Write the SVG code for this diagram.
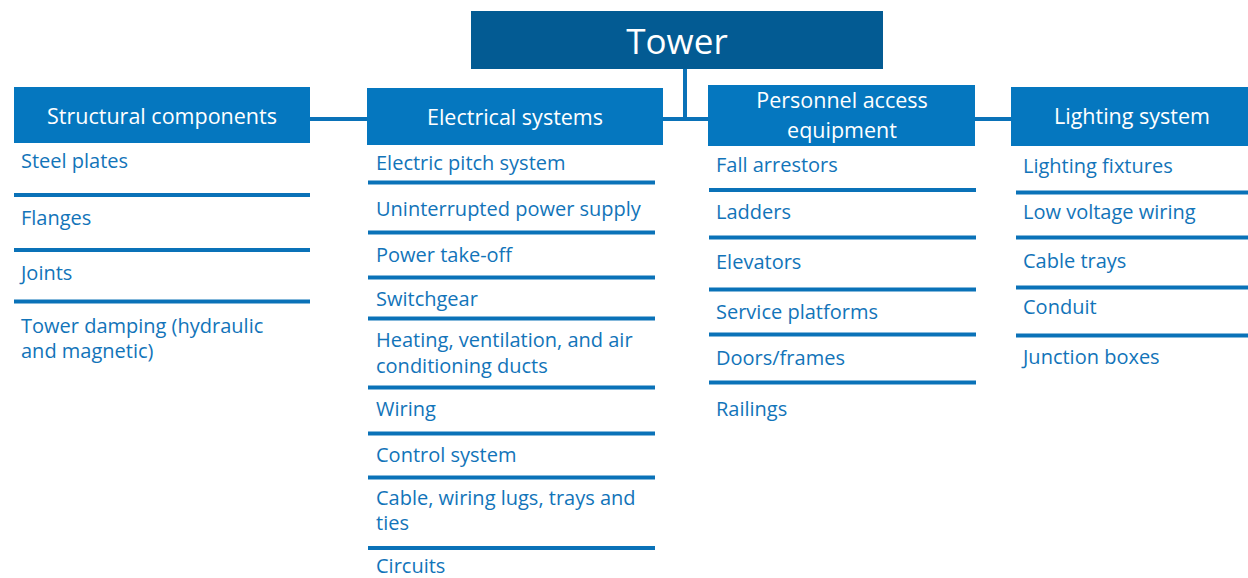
<svg xmlns="http://www.w3.org/2000/svg" width="1248" height="578" viewBox="0 0 1248 578">
<style>
.hd{fill:#0577bf}
.ht{fill:#ffffff;font-family:"Open Sans","Liberation Sans",sans-serif;font-size:21.5px;text-anchor:middle}
.it{fill:#1274b9;font-family:"Open Sans","Liberation Sans",sans-serif;font-size:20px}
.sep{stroke:#0a72b8;stroke-width:4}
.con{stroke:#0a72b8;stroke-width:4;fill:none}
</style>
<rect width="1248" height="578" fill="#ffffff"/>
<g id="connectors">
<line class="con" x1="685" y1="69" x2="685" y2="119"/>
<line class="con" x1="309" y1="119" x2="1012" y2="119"/>
</g>
<g id="tower">
<rect x="471" y="11" width="412" height="58" fill="#035b93"/>
<text x="677" y="54" fill="#ffffff" font-family="'Open Sans','Liberation Sans',sans-serif" font-size="35" text-anchor="middle">Tower</text>
</g>
<g id="structural">
<rect class="hd" x="14" y="87" width="296" height="56"/>
<text class="ht" x="162" y="124">Structural components</text>
<text class="it" x="21" y="168">Steel plates</text>
<line class="sep" x1="14" y1="195" x2="310" y2="195"/>
<text class="it" x="21" y="225">Flanges</text>
<line class="sep" x1="14" y1="250" x2="310" y2="250"/>
<text class="it" x="21" y="280">Joints</text>
<line class="sep" x1="14" y1="301.5" x2="310" y2="301.5"/>
<text class="it" x="21" y="333">Tower damping (hydraulic</text>
<text class="it" x="21" y="358">and magnetic)</text>
</g>
<g id="electrical">
<rect class="hd" x="367" y="88" width="296" height="57"/>
<text class="ht" x="515" y="125">Electrical systems</text>
<text class="it" x="376" y="170">Electric pitch system</text>
<line class="sep" x1="368" y1="182.5" x2="655" y2="182.5"/>
<text class="it" x="376" y="216">Uninterrupted power supply</text>
<line class="sep" x1="368" y1="232.5" x2="655" y2="232.5"/>
<text class="it" x="376" y="262">Power take-off</text>
<line class="sep" x1="368" y1="277.5" x2="655" y2="277.5"/>
<text class="it" x="376" y="306">Switchgear</text>
<line class="sep" x1="368" y1="318.5" x2="655" y2="318.5"/>
<text class="it" x="376" y="347">Heating, ventilation, and air</text>
<text class="it" x="376" y="373">conditioning ducts</text>
<line class="sep" x1="368" y1="387.5" x2="655" y2="387.5"/>
<text class="it" x="376" y="416">Wiring</text>
<line class="sep" x1="368" y1="433.5" x2="655" y2="433.5"/>
<text class="it" x="376" y="462">Control system</text>
<line class="sep" x1="368" y1="477.5" x2="655" y2="477.5"/>
<text class="it" x="376" y="505">Cable, wiring lugs, trays and</text>
<text class="it" x="376" y="530">ties</text>
<line class="sep" x1="368" y1="548" x2="655" y2="548"/>
<text class="it" x="376" y="573">Circuits</text>
</g>
<g id="personnel">
<rect class="hd" x="708" y="85" width="267" height="61"/>
<text class="ht" x="842" y="108">Personnel access</text>
<text class="ht" x="842" y="138">equipment</text>
<text class="it" x="716" y="172">Fall arrestors</text>
<line class="sep" x1="709" y1="190" x2="976" y2="190"/>
<text class="it" x="716" y="219">Ladders</text>
<line class="sep" x1="709" y1="237.5" x2="976" y2="237.5"/>
<text class="it" x="716" y="269">Elevators</text>
<line class="sep" x1="709" y1="289.5" x2="976" y2="289.5"/>
<text class="it" x="716" y="319">Service platforms</text>
<line class="sep" x1="709" y1="334.5" x2="976" y2="334.5"/>
<text class="it" x="716" y="365">Doors/frames</text>
<line class="sep" x1="709" y1="382.5" x2="976" y2="382.5"/>
<text class="it" x="716" y="416">Railings</text>
</g>
<g id="lighting">
<rect class="hd" x="1011" y="87" width="237" height="59"/>
<text class="ht" x="1132" y="124">Lighting system</text>
<text class="it" x="1023" y="173">Lighting fixtures</text>
<line class="sep" x1="1016" y1="192.5" x2="1248" y2="192.5"/>
<text class="it" x="1023" y="219">Low voltage wiring</text>
<line class="sep" x1="1016" y1="237.5" x2="1248" y2="237.5"/>
<text class="it" x="1023" y="268">Cable trays</text>
<line class="sep" x1="1016" y1="287.5" x2="1248" y2="287.5"/>
<text class="it" x="1023" y="314">Conduit</text>
<line class="sep" x1="1016" y1="335.5" x2="1248" y2="335.5"/>
<text class="it" x="1023" y="364">Junction boxes</text>
</g>
</svg>
